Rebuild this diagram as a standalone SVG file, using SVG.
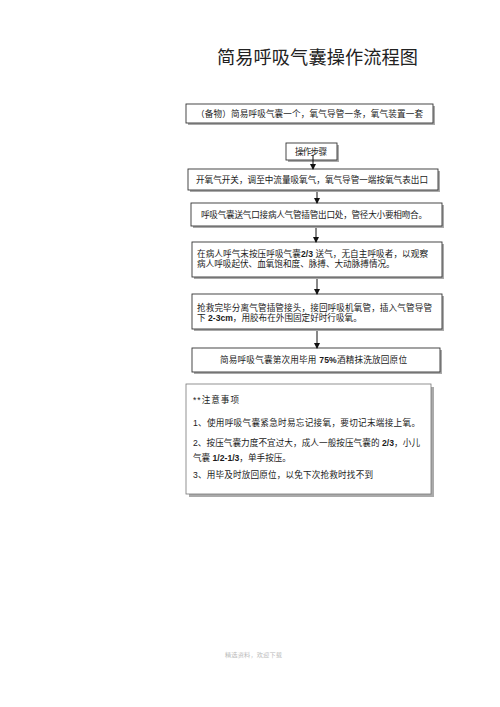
<svg xmlns="http://www.w3.org/2000/svg" width="500" height="707" viewBox="0 0 500 707">
<style>
.box{fill:#fff;stroke:#333;stroke-width:0.9}
.sh{fill:#aaa}
.t{font-family:"Liberation Sans","Noto Sans CJK SC",sans-serif;font-size:8.6px;fill:#1a1a1a}
.tb{font-weight:bold}
.c{stroke:#111;stroke-width:1;fill:none;marker-end:url(#ah)}
</style>
<defs>
<marker id="ah" viewBox="0 0 6 6" refX="5" refY="3" markerWidth="6" markerHeight="6" markerUnits="userSpaceOnUse" orient="auto">
<path d="M0,0 L6,3 L0,6 z" fill="#111"/>
</marker>
</defs>
<rect width="500" height="707" fill="#fff"/>
<text x="217" y="64" font-family="'Noto Sans CJK SC',sans-serif" font-size="18.2" fill="#222" textLength="201" lengthAdjust="spacing">简易呼吸气囊操作流程图</text>

<g id="n1">
<rect class="sh" x="188" y="106" width="247" height="19"/>
<rect class="box" x="186" y="104" width="247" height="19"/>
<text class="t" x="196" y="117" textLength="227" lengthAdjust="spacing">（备物）简易呼吸气囊一个，氧气导管一条，氧气装置一套</text>
</g>
<g id="n2">
<rect class="sh" x="288" y="145" width="51" height="17"/>
<rect class="box" x="286" y="143" width="51" height="17"/>
<text class="t" x="295" y="155" textLength="32" lengthAdjust="spacing">操作步骤</text>
</g>
<g id="n3">
<rect class="sh" x="190" y="171" width="250" height="21"/>
<rect class="box" x="188" y="169" width="250" height="21"/>
<text class="t" x="196" y="182.5" textLength="232" lengthAdjust="spacing">开氧气开关，调至中流量吸氧气，氧气导管一端按氧气表出口</text>
</g>
<g id="n4">
<rect class="sh" x="193" y="205" width="251" height="23"/>
<rect class="box" x="191" y="203" width="251" height="23"/>
<text class="t" x="201" y="217.5" textLength="226" lengthAdjust="spacing">呼吸气囊送气口接病人气管插管出口处，管径大小要相吻合。</text>
</g>
<g id="n5">
<rect class="sh" x="194" y="244" width="250" height="35"/>
<rect class="box" x="192" y="242" width="250" height="35"/>
<text class="t" x="197" y="257" textLength="231" lengthAdjust="spacing">在病人呼气末按压呼吸气囊<tspan class="tb">2/3</tspan> 送气，无自主呼吸者，以观察</text>
<text class="t" x="197" y="267">病人呼吸起伏、血氧饱和度、脉搏、大动脉搏情况。</text>
</g>
<g id="n6">
<rect class="sh" x="194" y="296" width="250" height="35"/>
<rect class="box" x="192" y="294" width="250" height="35"/>
<text class="t" x="197" y="311" textLength="235" lengthAdjust="spacing">抢救完毕分离气管插管接头，接回呼吸机氧管，插入气管导管</text>
<text class="t" x="197" y="321">下 <tspan class="tb">2-3cm</tspan>，用胶布在外围固定好时行吸氧。</text>
</g>
<g id="n7">
<rect class="sh" x="194" y="350" width="248" height="24"/>
<rect class="box" x="192" y="348" width="248" height="24"/>
<text class="t" x="220" y="363" textLength="187" lengthAdjust="spacing">简易呼吸气囊第次用毕用 <tspan class="tb">75%</tspan>酒精抹洗放回原位</text>
</g>
<g id="n8">
<rect class="sh" x="189" y="387" width="245" height="110"/>
<rect x="186" y="384" width="245" height="110" fill="#fff" stroke="#777" stroke-width="0.8"/>
<text class="t" x="193" y="403" font-size="10" textLength="46" lengthAdjust="spacing">**注意事项</text>
<text class="t" x="193" y="426" textLength="227" lengthAdjust="spacing">1、使用呼吸气囊紧急时易忘记接氧，要切记末端接上氧。</text>
<text class="t" x="193" y="446" textLength="227" lengthAdjust="spacing">2、按压气囊力度不宜过大，成人一般按压气囊的 <tspan class="tb">2/3</tspan>，小儿</text>
<text class="t" x="193" y="461">气囊 <tspan class="tb">1/2-1/3</tspan>，单手按压。</text>
<text class="t" x="193" y="478" textLength="180" lengthAdjust="spacing">3、用毕及时放回原位，以免下次抢救时找不到</text>
</g>
<g id="connectors">
<line class="c" x1="313" y1="155" x2="313" y2="169"/>
<line class="c" x1="317" y1="192" x2="317" y2="203"/>
<line class="c" x1="316" y1="228" x2="316" y2="242"/>
<line class="c" x1="317" y1="279" x2="317" y2="294"/>
<line class="c" x1="317" y1="331" x2="317" y2="348"/>
</g>
<text x="225" y="657" font-family="'Noto Sans CJK SC',sans-serif" font-size="6.2" fill="#bbb" textLength="57" lengthAdjust="spacing">精选资料，欢迎下载</text>
</svg>
